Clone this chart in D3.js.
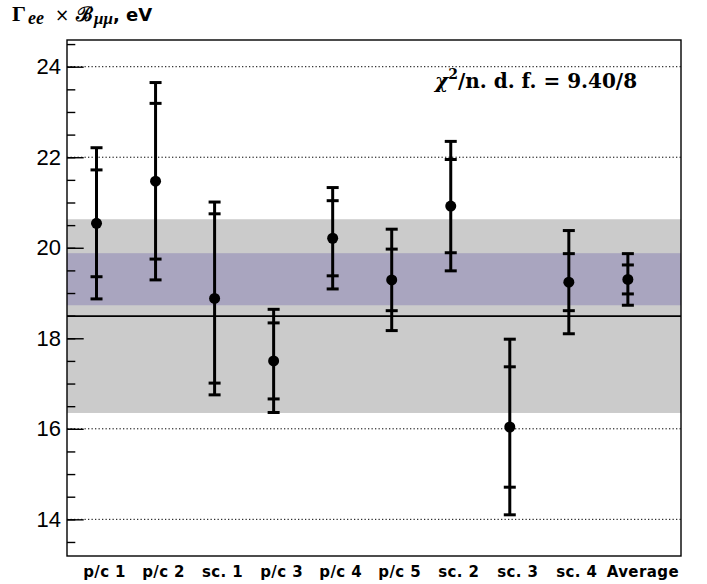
<!DOCTYPE html>
<html>
<head>
<meta charset="utf-8">
<script src="https://cdn.jsdelivr.net/npm/d3@7"></script>
<style>
  body { margin: 0; background: #fff; }
  svg { display: block; }
</style>
</head>
<body>
<div id="chart"></div>
<script>
const categories = ["p/c 1", "p/c 2", "sc. 1", "p/c 3", "p/c 4", "p/c 5", "sc. 2", "sc. 3", "sc. 4", "Average"];
const values = [20.54, 21.47, 18.88, 17.50, 20.21, 19.29, 20.92, 16.04, 19.24, 19.30];
const statErr = [1.18, 1.72, 1.87, 0.84, 0.83, 0.68, 1.03, 1.33, 0.63, 0.32];
const totalErr = [1.67, 2.18, 2.13, 1.14, 1.12, 1.12, 1.43, 1.94, 1.14, 0.57];

const refValue = 18.49;
const refBand = [16.35, 20.63];
const avgBand = [18.73, 19.88];

const majorTicks = [14, 16, 18, 20, 22, 24];
const minorTicks = d3.range(13.5, 24.51, 0.5);

const width = 707, height = 584;
const padL = 67, padR = 681, padT = 40, padB = 556;

const svg = d3.select("#chart")
  .append("svg")
  .attr("width", width)
  .attr("height", height);

const x = d3.scaleLinear().domain([0, 10.4]).range([padL, padR]);
const y = d3.scaleLinear().domain([13.19, 24.59]).range([padB, padT]);

// dotted grid
svg.selectAll("line.grid")
  .data(majorTicks)
  .enter()
  .append("line")
  .attr("x1", padL)
  .attr("x2", padR)
  .attr("y1", d => y(d))
  .attr("y2", d => y(d))
  .attr("stroke", "#000")
  .attr("stroke-width", 1)
  .attr("stroke-dasharray", "1.3,2.2");

// bands
svg.append("rect")
  .attr("x", padL)
  .attr("width", padR - padL)
  .attr("y", y(refBand[1]))
  .attr("height", y(refBand[0]) - y(refBand[1]))
  .attr("fill", "#cbcbcb");

svg.append("rect")
  .attr("x", padL)
  .attr("width", padR - padL)
  .attr("y", y(avgBand[1]))
  .attr("height", y(avgBand[0]) - y(avgBand[1]))
  .attr("fill", "#a9a5bf");

svg.append("line")
  .attr("x1", padL)
  .attr("x2", padR)
  .attr("y1", y(refValue))
  .attr("y2", y(refValue))
  .attr("stroke", "#000")
  .attr("stroke-width", 1.8);

// axes
const yAxis = d3.axisLeft(y)
  .tickValues(majorTicks)
  .tickSizeInner(-16.7)
  .tickSizeOuter(0)
  .tickPadding(6)
  .tickFormat(d3.format("d"));

const gy = svg.append("g")
  .attr("transform", `translate(${padL},0)`)
  .call(yAxis);
gy.select(".domain").remove();
gy.selectAll("line").attr("stroke", "#000").attr("stroke-width", 1.4);
gy.selectAll("text")
  .attr("font-family", "Liberation Sans, Arial, sans-serif")
  .attr("font-size", 22)
  .attr("fill", "#000");

const gMinor = svg.append("g")
  .attr("transform", `translate(${padL},0)`)
  .call(d3.axisLeft(y).tickValues(minorTicks).tickSizeInner(-8.3).tickSizeOuter(0).tickFormat(""));
gMinor.select(".domain").remove();
gMinor.selectAll("line").attr("stroke", "#000").attr("stroke-width", 1.4);

// frame
svg.append("rect")
  .attr("x", padL)
  .attr("y", padT)
  .attr("width", padR - padL)
  .attr("height", padB - padT)
  .attr("fill", "none")
  .attr("stroke", "#000")
  .attr("stroke-width", 1.4);

// category labels
svg.selectAll("text.cat")
  .data(categories)
  .enter()
  .append("text")
  .attr("class", "cat")
  .attr("x", (d, i) => x(i + 0.5) + (i === 9 ? 15 : 8))
  .attr("y", 577)
  .attr("text-anchor", "middle")
  .attr("font-family", "DejaVu Sans, sans-serif")
  .attr("font-weight", "bold")
  .attr("font-size", 15)
  .attr("letter-spacing", 0.4)
  .text(d => d);

// error bars
const cap = 6;
const bars = svg.selectAll("g.pt")
  .data(values)
  .enter()
  .append("g")
  .attr("stroke", "#000")
  .attr("stroke-width", 3);

bars.append("line")
  .attr("x1", (d, i) => x(i + 0.5))
  .attr("x2", (d, i) => x(i + 0.5))
  .attr("y1", (d, i) => y(d + totalErr[i]))
  .attr("y2", (d, i) => y(d - totalErr[i]));

[totalErr, statErr].forEach(errs => {
  [1, -1].forEach(s => {
    bars.append("line")
      .attr("x1", (d, i) => x(i + 0.5) - cap)
      .attr("x2", (d, i) => x(i + 0.5) + cap)
      .attr("y1", (d, i) => y(d + s * errs[i]))
      .attr("y2", (d, i) => y(d + s * errs[i]));
  });
});

bars.append("circle")
  .attr("cx", (d, i) => x(i + 0.5))
  .attr("cy", d => y(d))
  .attr("r", 5.5)
  .attr("stroke", "none")
  .attr("fill", "#000");

// title
const title = svg.append("text")
  .attr("y", 21)
  .attr("font-weight", "bold")
  .attr("font-family", "Liberation Serif, serif")
  .attr("font-size", 22);
title.append("tspan").attr("x", 12).text("Γ");
title.append("tspan").attr("x", 28).attr("dy", 3).attr("font-style", "italic").attr("font-size", 18).text("ee");
title.append("tspan").attr("x", 55).attr("dy", -3).attr("font-family", "DejaVu Sans, sans-serif").attr("font-weight", "normal").attr("font-size", 17).text("×");
title.append("tspan").attr("x", 76).attr("font-family", "DejaVu Serif, serif").attr("font-size", 20).text("ℬ");
title.append("tspan").attr("x", 94).attr("dy", 3).attr("font-style", "italic").attr("font-size", 17).text("μμ");
title.append("tspan").attr("x", 113).attr("dy", -3).attr("font-family", "DejaVu Sans, sans-serif").attr("font-size", 18).text(", eV");

// chi2 label
const chi = svg.append("text")
  .attr("x", 435)
  .attr("y", 88)
  .attr("font-size", 20)
  .attr("font-weight", "bold")
  .attr("font-family", "DejaVu Serif, serif");
chi.append("tspan").attr("font-style", "italic").text("χ");
chi.append("tspan").attr("font-size", 14).attr("dy", -9).text("2");
chi.append("tspan").attr("dy", 9).text("/n. d. f. = 9.40/8");
</script>
</body>
</html>
